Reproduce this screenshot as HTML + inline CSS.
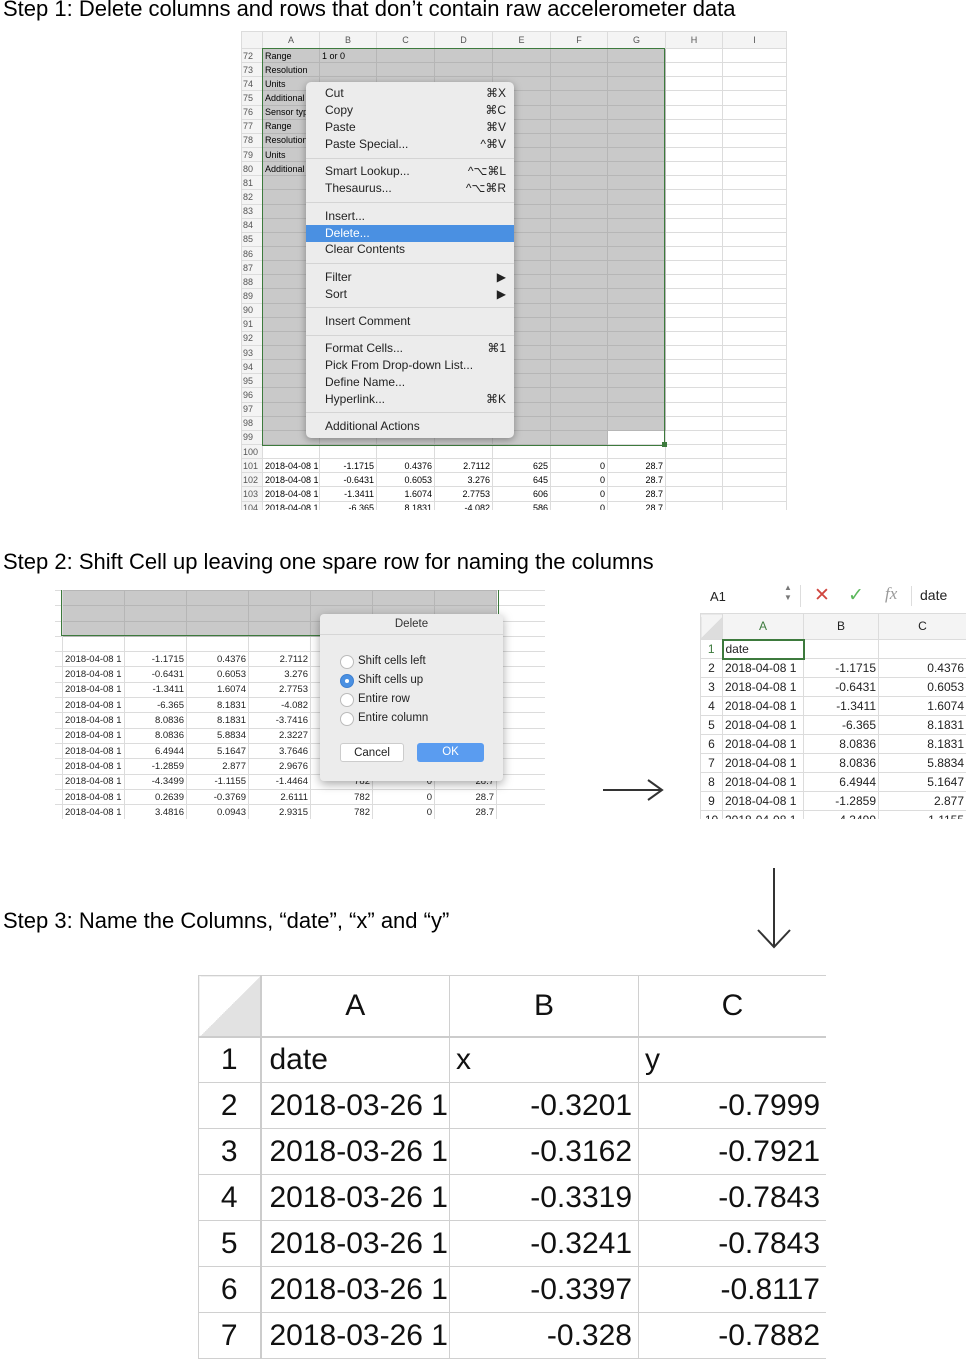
<!DOCTYPE html>
<html><head><meta charset="utf-8"><style>
*{margin:0;padding:0;box-sizing:border-box}
body{width:972px;height:1372px;background:#fff;position:relative;overflow:hidden;font-family:"Liberation Sans",sans-serif;color:#000}
.abs{position:absolute}
.h{font-size:22px;white-space:nowrap}
table{border-collapse:collapse;table-layout:fixed;position:absolute}
td{border:1px solid #dcdcdc;white-space:nowrap;overflow:hidden;padding:0 2px}
.s1 td{font-size:9px;height:14.15px;line-height:12px}
.s1 .rn{color:#555;text-align:left;padding:0 1px;background:#f4f4f4}
.s1 .hd td{height:17px;text-align:center;color:#555;background:#f4f4f4}
.g{background:#c9c9c9;border-color:#b6b6b6}
.r{text-align:right}
.mi{position:absolute;left:0;width:208px;height:17px;line-height:17px;font-size:12px;color:#222;padding-left:19px}
.mi span{position:absolute;right:8px}
.sep{position:absolute;left:0;width:208px;border-top:1px solid #d4d4d4}
.s2 td{font-size:9.5px;height:15.3px;line-height:13px;color:#222}
.s3 td{font-size:12px;height:19px;line-height:17px;color:#222}
.s4 td{font-size:30px;height:46px;line-height:44px;border-color:#d0d0d0;color:#111}
.rad{position:absolute;left:340px;width:14px;height:14px;border-radius:50%;border:1px solid #bbb;background:#fff}
.rl{position:absolute;left:358px;font-size:11.5px;color:#222}
</style></head><body>

<div class="abs h" style="left:3px;top:-4px">Step 1: Delete columns and rows that don’t contain raw accelerometer data</div>

<table class="s1" style="left:241px;top:31px;width:545px">
<colgroup><col style="width:21px"><col style="width:57px"><col style="width:57px"><col style="width:58px"><col style="width:58px"><col style="width:58px"><col style="width:57px"><col style="width:58px"><col style="width:57px"><col style="width:64px"></colgroup>
<tr class="hd"><td></td><td>A</td><td>B</td><td>C</td><td>D</td><td>E</td><td>F</td><td>G</td><td>H</td><td>I</td></tr>
<tr><td class="rn">72</td><td class="g">Range</td><td class="g">1 or 0</td><td class="g"></td><td class="g"></td><td class="g"></td><td class="g"></td><td class="g"></td><td></td><td></td></tr>
<tr><td class="rn">73</td><td class="g">Resolution</td><td class="g"></td><td class="g"></td><td class="g"></td><td class="g"></td><td class="g"></td><td class="g"></td><td></td><td></td></tr>
<tr><td class="rn">74</td><td class="g">Units</td><td class="g"></td><td class="g"></td><td class="g"></td><td class="g"></td><td class="g"></td><td class="g"></td><td></td><td></td></tr>
<tr><td class="rn">75</td><td class="g">Additional</td><td class="g"></td><td class="g"></td><td class="g"></td><td class="g"></td><td class="g"></td><td class="g"></td><td></td><td></td></tr>
<tr><td class="rn">76</td><td class="g">Sensor type</td><td class="g"></td><td class="g"></td><td class="g"></td><td class="g"></td><td class="g"></td><td class="g"></td><td></td><td></td></tr>
<tr><td class="rn">77</td><td class="g">Range</td><td class="g"></td><td class="g"></td><td class="g"></td><td class="g"></td><td class="g"></td><td class="g"></td><td></td><td></td></tr>
<tr><td class="rn">78</td><td class="g">Resolution</td><td class="g"></td><td class="g"></td><td class="g"></td><td class="g"></td><td class="g"></td><td class="g"></td><td></td><td></td></tr>
<tr><td class="rn">79</td><td class="g">Units</td><td class="g"></td><td class="g"></td><td class="g"></td><td class="g"></td><td class="g"></td><td class="g"></td><td></td><td></td></tr>
<tr><td class="rn">80</td><td class="g">Additional</td><td class="g"></td><td class="g"></td><td class="g"></td><td class="g"></td><td class="g"></td><td class="g"></td><td></td><td></td></tr>
<tr><td class="rn">81</td><td class="g"></td><td class="g"></td><td class="g"></td><td class="g"></td><td class="g"></td><td class="g"></td><td class="g"></td><td></td><td></td></tr>
<tr><td class="rn">82</td><td class="g"></td><td class="g"></td><td class="g"></td><td class="g"></td><td class="g"></td><td class="g"></td><td class="g"></td><td></td><td></td></tr>
<tr><td class="rn">83</td><td class="g"></td><td class="g"></td><td class="g"></td><td class="g"></td><td class="g"></td><td class="g"></td><td class="g"></td><td></td><td></td></tr>
<tr><td class="rn">84</td><td class="g"></td><td class="g"></td><td class="g"></td><td class="g"></td><td class="g"></td><td class="g"></td><td class="g"></td><td></td><td></td></tr>
<tr><td class="rn">85</td><td class="g"></td><td class="g"></td><td class="g"></td><td class="g"></td><td class="g"></td><td class="g"></td><td class="g"></td><td></td><td></td></tr>
<tr><td class="rn">86</td><td class="g"></td><td class="g"></td><td class="g"></td><td class="g"></td><td class="g"></td><td class="g"></td><td class="g"></td><td></td><td></td></tr>
<tr><td class="rn">87</td><td class="g"></td><td class="g"></td><td class="g"></td><td class="g"></td><td class="g"></td><td class="g"></td><td class="g"></td><td></td><td></td></tr>
<tr><td class="rn">88</td><td class="g"></td><td class="g"></td><td class="g"></td><td class="g"></td><td class="g"></td><td class="g"></td><td class="g"></td><td></td><td></td></tr>
<tr><td class="rn">89</td><td class="g"></td><td class="g"></td><td class="g"></td><td class="g"></td><td class="g"></td><td class="g"></td><td class="g"></td><td></td><td></td></tr>
<tr><td class="rn">90</td><td class="g"></td><td class="g"></td><td class="g"></td><td class="g"></td><td class="g"></td><td class="g"></td><td class="g"></td><td></td><td></td></tr>
<tr><td class="rn">91</td><td class="g"></td><td class="g"></td><td class="g"></td><td class="g"></td><td class="g"></td><td class="g"></td><td class="g"></td><td></td><td></td></tr>
<tr><td class="rn">92</td><td class="g"></td><td class="g"></td><td class="g"></td><td class="g"></td><td class="g"></td><td class="g"></td><td class="g"></td><td></td><td></td></tr>
<tr><td class="rn">93</td><td class="g"></td><td class="g"></td><td class="g"></td><td class="g"></td><td class="g"></td><td class="g"></td><td class="g"></td><td></td><td></td></tr>
<tr><td class="rn">94</td><td class="g"></td><td class="g"></td><td class="g"></td><td class="g"></td><td class="g"></td><td class="g"></td><td class="g"></td><td></td><td></td></tr>
<tr><td class="rn">95</td><td class="g"></td><td class="g"></td><td class="g"></td><td class="g"></td><td class="g"></td><td class="g"></td><td class="g"></td><td></td><td></td></tr>
<tr><td class="rn">96</td><td class="g"></td><td class="g"></td><td class="g"></td><td class="g"></td><td class="g"></td><td class="g"></td><td class="g"></td><td></td><td></td></tr>
<tr><td class="rn">97</td><td class="g"></td><td class="g"></td><td class="g"></td><td class="g"></td><td class="g"></td><td class="g"></td><td class="g"></td><td></td><td></td></tr>
<tr><td class="rn">98</td><td class="g"></td><td class="g"></td><td class="g"></td><td class="g"></td><td class="g"></td><td class="g"></td><td class="g"></td><td></td><td></td></tr>
<tr><td class="rn">99</td><td class="g"></td><td class="g"></td><td class="g"></td><td class="g"></td><td class="g"></td><td class="g"></td><td></td><td></td><td></td></tr>
<tr><td class="rn">100</td><td></td><td></td><td></td><td></td><td></td><td></td><td></td><td></td><td></td></tr>
<tr><td class="rn">101</td><td>2018-04-08 1</td><td class="r">-1.1715</td><td class="r">0.4376</td><td class="r">2.7112</td><td class="r">625</td><td class="r">0</td><td class="r">28.7</td><td></td><td></td></tr>
<tr><td class="rn">102</td><td>2018-04-08 1</td><td class="r">-0.6431</td><td class="r">0.6053</td><td class="r">3.276</td><td class="r">645</td><td class="r">0</td><td class="r">28.7</td><td></td><td></td></tr>
<tr><td class="rn">103</td><td>2018-04-08 1</td><td class="r">-1.3411</td><td class="r">1.6074</td><td class="r">2.7753</td><td class="r">606</td><td class="r">0</td><td class="r">28.7</td><td></td><td></td></tr>
<tr><td class="rn">104</td><td>2018-04-08 1</td><td class="r">-6.365</td><td class="r">8.1831</td><td class="r">-4.082</td><td class="r">586</td><td class="r">0</td><td class="r">28.7</td><td></td><td></td></tr>
</table>
<div class="abs" style="left:0;top:510px;width:972px;height:40px;background:#fff"></div>
<div class="abs" style="left:262px;top:48px;width:403px;height:398px;border:1.5px solid #3d7a3d"></div>
<div class="abs" style="left:662px;top:442px;width:5px;height:5px;background:#3d7a3d"></div>

<div class="abs" style="left:306px;top:82px;width:208px;height:356px;background:#ececec;border-radius:5px;box-shadow:0 2px 8px rgba(0,0,0,.35)">
<div class="mi" style="top:3px">Cut<span>⌘X</span></div>
<div class="mi" style="top:20px">Copy<span>⌘C</span></div>
<div class="mi" style="top:37px">Paste<span>⌘V</span></div>
<div class="mi" style="top:54px">Paste Special...<span>^⌘V</span></div>
<div class="sep" style="top:76px"></div>
<div class="mi" style="top:81px">Smart Lookup...<span>^⌥⌘L</span></div>
<div class="mi" style="top:98px">Thesaurus...<span>^⌥⌘R</span></div>
<div class="sep" style="top:120px"></div>
<div class="mi" style="top:126px">Insert...</div>
<div class="mi" style="top:143px;background:#4a90e2;color:#fff">Delete...</div>
<div class="mi" style="top:159px">Clear Contents</div>
<div class="sep" style="top:181px"></div>
<div class="mi" style="top:187px">Filter<span>▶</span></div>
<div class="mi" style="top:204px">Sort<span>▶</span></div>
<div class="sep" style="top:225px"></div>
<div class="mi" style="top:231px">Insert Comment</div>
<div class="sep" style="top:253px"></div>
<div class="mi" style="top:258px">Format Cells...<span>⌘1</span></div>
<div class="mi" style="top:275px">Pick From Drop-down List...</div>
<div class="mi" style="top:292px">Define Name...</div>
<div class="mi" style="top:309px">Hyperlink...<span>⌘K</span></div>
<div class="sep" style="top:330px"></div>
<div class="mi" style="top:336px">Additional Actions</div>
</div>

<div class="abs h" style="left:3px;top:549px">Step 2: Shift Cell up leaving one spare row for naming the columns</div>

<div class="abs" style="left:55px;top:590px;width:490px;height:229px;overflow:hidden">
<table class="s2" style="left:-14px;top:0;width:540px">
<colgroup><col style="width:21px"><col style="width:62px"><col style="width:62px"><col style="width:62px"><col style="width:62px"><col style="width:62px"><col style="width:62px"><col style="width:62px"><col style="width:85px"></colgroup>
<tr><td></td><td class="g"></td><td class="g"></td><td class="g"></td><td class="g"></td><td class="g"></td><td class="g"></td><td class="g"></td><td></td></tr>
<tr><td></td><td class="g"></td><td class="g"></td><td class="g"></td><td class="g"></td><td class="g"></td><td class="g"></td><td class="g"></td><td></td></tr>
<tr><td></td><td class="g"></td><td class="g"></td><td class="g"></td><td class="g"></td><td class="g"></td><td class="g"></td><td class="g"></td><td></td></tr>
<tr><td></td><td></td><td></td><td></td><td></td><td></td><td></td><td></td><td></td></tr>
<tr><td></td><td>2018-04-08 1</td><td class="r">-1.1715</td><td class="r">0.4376</td><td class="r">2.7112</td><td class="r">625</td><td class="r">0</td><td class="r">28.7</td><td></td></tr>
<tr><td></td><td>2018-04-08 1</td><td class="r">-0.6431</td><td class="r">0.6053</td><td class="r">3.276</td><td class="r">645</td><td class="r">0</td><td class="r">28.7</td><td></td></tr>
<tr><td></td><td>2018-04-08 1</td><td class="r">-1.3411</td><td class="r">1.6074</td><td class="r">2.7753</td><td class="r">606</td><td class="r">0</td><td class="r">28.7</td><td></td></tr>
<tr><td></td><td>2018-04-08 1</td><td class="r">-6.365</td><td class="r">8.1831</td><td class="r">-4.082</td><td class="r">586</td><td class="r">0</td><td class="r">28.7</td><td></td></tr>
<tr><td></td><td>2018-04-08 1</td><td class="r">8.0836</td><td class="r">8.1831</td><td class="r">-3.7416</td><td class="r">782</td><td class="r">0</td><td class="r">28.7</td><td></td></tr>
<tr><td></td><td>2018-04-08 1</td><td class="r">8.0836</td><td class="r">5.8834</td><td class="r">2.3227</td><td class="r">782</td><td class="r">0</td><td class="r">28.7</td><td></td></tr>
<tr><td></td><td>2018-04-08 1</td><td class="r">6.4944</td><td class="r">5.1647</td><td class="r">3.7646</td><td class="r">782</td><td class="r">0</td><td class="r">28.7</td><td></td></tr>
<tr><td></td><td>2018-04-08 1</td><td class="r">-1.2859</td><td class="r">2.877</td><td class="r">2.9676</td><td class="r">782</td><td class="r">0</td><td class="r">28.7</td><td></td></tr>
<tr><td></td><td>2018-04-08 1</td><td class="r">-4.3499</td><td class="r">-1.1155</td><td class="r">-1.4464</td><td class="r">782</td><td class="r">0</td><td class="r">28.7</td><td></td></tr>
<tr><td></td><td>2018-04-08 1</td><td class="r">0.2639</td><td class="r">-0.3769</td><td class="r">2.6111</td><td class="r">782</td><td class="r">0</td><td class="r">28.7</td><td></td></tr>
<tr><td></td><td>2018-04-08 1</td><td class="r">3.4816</td><td class="r">0.0943</td><td class="r">2.9315</td><td class="r">782</td><td class="r">0</td><td class="r">28.7</td><td></td></tr>
</table>
<div class="abs" style="left:6px;top:0;width:438px;height:46px;border:1.5px solid #3d7a3d;border-top:none"></div>
</div>

<div class="abs" style="left:320px;top:614px;width:183px;height:167px;background:#ececec;border-radius:4px;box-shadow:0 3px 10px rgba(0,0,0,.35)">
<div style="height:21px;line-height:21px;text-align:center;font-size:11.5px;color:#333;border-bottom:1px solid #d6d6d6">Delete</div>
</div>
<div class="rad" style="top:655px"></div><div class="rl" style="top:655px">Shift cells left</div>
<div class="rad" style="top:674px;background:#4a90e2;border-color:#3d7fd0"><div style="width:4px;height:4px;border-radius:50%;background:#fff;margin:4px"></div></div><div class="rl" style="top:674px">Shift cells up</div>
<div class="rad" style="top:693px"></div><div class="rl" style="top:693px">Entire row</div>
<div class="rad" style="top:712px"></div><div class="rl" style="top:712px">Entire column</div>
<div class="abs" style="left:340px;top:743px;width:64px;height:19px;background:#fff;border:1px solid #ccc;border-radius:3px;font-size:11.5px;text-align:center;line-height:18px;color:#222">Cancel</div>
<div class="abs" style="left:417px;top:743px;width:67px;height:19px;background:#5a9cf0;border-radius:3px;font-size:11.5px;text-align:center;line-height:19px;color:#fff">OK</div>

<!-- Step 2 right -->
<div class="abs" style="left:710px;top:589px;font-size:13px;color:#222">A1</div>
<div class="abs" style="left:784px;top:583px;font-size:8px;color:#777;line-height:10px">▲<br>▼</div>
<div class="abs" style="left:800px;top:585px;width:1px;height:22px;background:#ddd"></div>
<div class="abs" style="left:814px;top:584px;font-size:19px;color:#d0463f">✕</div>
<div class="abs" style="left:848px;top:584px;font-size:19px;color:#5cb85c">✓</div>
<div class="abs" style="left:885px;top:584px;font-size:17px;color:#999;font-family:'Liberation Serif',serif;font-style:italic">fx</div>
<div class="abs" style="left:911px;top:586px;width:1px;height:20px;background:#ddd"></div>
<div class="abs" style="left:920px;top:587px;font-size:14px;color:#222">date</div>
<div class="abs" style="left:700px;top:613px;width:266px;height:206px;overflow:hidden">
<table class="s3" style="left:0;top:0;width:280px">
<colgroup><col style="width:22px"><col style="width:81px"><col style="width:75px"><col style="width:88px"><col style="width:14px"></colgroup>
<tr style="background:#f4f4f4"><td style="height:26px;background:linear-gradient(135deg,#f4f4f4 50%,#ddd 50%)"></td><td style="text-align:center;color:#3d7a3d;height:26px">A</td><td style="text-align:center">B</td><td style="text-align:center">C</td><td></td></tr>
<tr><td style="text-align:center;color:#3d7a3d">1</td><td style="border:2px solid #3d7a3d">date</td><td></td><td></td><td></td></tr>
<tr><td style="text-align:center">2</td><td>2018-04-08 1</td><td class="r">-1.1715</td><td class="r">0.4376</td><td></td></tr>
<tr><td style="text-align:center">3</td><td>2018-04-08 1</td><td class="r">-0.6431</td><td class="r">0.6053</td><td></td></tr>
<tr><td style="text-align:center">4</td><td>2018-04-08 1</td><td class="r">-1.3411</td><td class="r">1.6074</td><td></td></tr>
<tr><td style="text-align:center">5</td><td>2018-04-08 1</td><td class="r">-6.365</td><td class="r">8.1831</td><td></td></tr>
<tr><td style="text-align:center">6</td><td>2018-04-08 1</td><td class="r">8.0836</td><td class="r">8.1831</td><td></td></tr>
<tr><td style="text-align:center">7</td><td>2018-04-08 1</td><td class="r">8.0836</td><td class="r">5.8834</td><td></td></tr>
<tr><td style="text-align:center">8</td><td>2018-04-08 1</td><td class="r">6.4944</td><td class="r">5.1647</td><td></td></tr>
<tr><td style="text-align:center">9</td><td>2018-04-08 1</td><td class="r">-1.2859</td><td class="r">2.877</td><td></td></tr>
<tr><td style="text-align:center">10</td><td>2018-04-08 1</td><td class="r">-4.3499</td><td class="r">-1.1155</td><td></td></tr>
</table>
</div>

<svg class="abs" style="left:0;top:0" width="972" height="1372">
<line x1="603" y1="790" x2="662" y2="790" stroke="#333" stroke-width="2"/>
<polyline points="648,780 662,790 648,800" fill="none" stroke="#333" stroke-width="2"/>
<line x1="774" y1="868" x2="774" y2="947" stroke="#333" stroke-width="2"/>
<polyline points="758,930 774,947 790,930" fill="none" stroke="#333" stroke-width="2"/>
</svg>

<div class="abs h" style="left:3px;top:908px">Step 3: Name the Columns, “date”, “x” and “y”</div>

<div class="abs" style="left:198px;top:975px;width:628px;height:390px;overflow:hidden">
<table class="s4" style="left:0;top:0;width:628px">
<colgroup><col style="width:62px"><col style="width:189px"><col style="width:189px"><col style="width:188px"></colgroup>
<tr><td style="height:61px;background:linear-gradient(135deg,#fff 50%,#e2e2e2 50%);border-bottom:2px solid #ccc;border-right:2px solid #ccc"></td><td style="text-align:center;border-bottom:2px solid #ccc">A</td><td style="text-align:center;border-bottom:2px solid #ccc">B</td><td style="text-align:center;border-bottom:2px solid #ccc">C</td></tr>
<tr><td style="text-align:center;border-right:2px solid #ccc">1</td><td style="padding-left:8px">date</td><td style="padding-left:6px">x</td><td style="padding-left:6px">y</td></tr>
<tr><td style="text-align:center;border-right:2px solid #ccc">2</td><td style="padding-left:8px">2018-03-26 1</td><td class="r" style="padding-right:6px">-0.3201</td><td class="r" style="padding-right:6px">-0.7999</td></tr>
<tr><td style="text-align:center;border-right:2px solid #ccc">3</td><td style="padding-left:8px">2018-03-26 1</td><td class="r" style="padding-right:6px">-0.3162</td><td class="r" style="padding-right:6px">-0.7921</td></tr>
<tr><td style="text-align:center;border-right:2px solid #ccc">4</td><td style="padding-left:8px">2018-03-26 1</td><td class="r" style="padding-right:6px">-0.3319</td><td class="r" style="padding-right:6px">-0.7843</td></tr>
<tr><td style="text-align:center;border-right:2px solid #ccc">5</td><td style="padding-left:8px">2018-03-26 1</td><td class="r" style="padding-right:6px">-0.3241</td><td class="r" style="padding-right:6px">-0.7843</td></tr>
<tr><td style="text-align:center;border-right:2px solid #ccc">6</td><td style="padding-left:8px">2018-03-26 1</td><td class="r" style="padding-right:6px">-0.3397</td><td class="r" style="padding-right:6px">-0.8117</td></tr>
<tr><td style="text-align:center;border-right:2px solid #ccc">7</td><td style="padding-left:8px">2018-03-26 1</td><td class="r" style="padding-right:6px">-0.328</td><td class="r" style="padding-right:6px">-0.7882</td></tr>
</table>
</div>
</body></html>
